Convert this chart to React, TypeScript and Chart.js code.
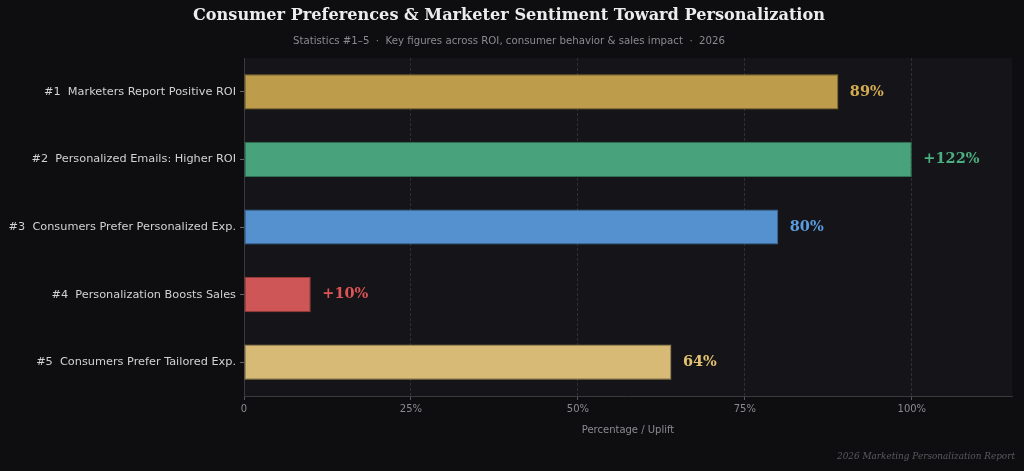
import React, { useEffect, useRef } from "react";
import { Chart, registerables } from "chart.js";

Chart.register(...registerables);

const categories = [
  "#1  Marketers Report Positive ROI",
  "#2  Personalized Emails: Higher ROI",
  "#3  Consumers Prefer Personalized Exp.",
  "#4  Personalization Boosts Sales",
  "#5  Consumers Prefer Tailored Exp.",
];
// reported values; bars are capped at the 100% axis mark
const reportedValues = [89, 122, 80, 10, 64];
const barValues = [89, 100, 80, 10, 64];
const valueLabels = ["89%", "+122%", "80%", "+10%", "64%"];
const barColors = ["#bd9c4b", "#48a27c", "#5591cf", "#cf5656", "#d6ba75"];
const barEdgeColors = ["#8a7035", "#2f6f53", "#3b6c9c", "#963a3a", "#a08a50"];
const labelColors = ["#d4ac52", "#4bb081", "#5b9de0", "#de5454", "#e2c271"];
const xTickValues = [0, 25, 50, 75, 100];
const xTickLabels = ["0", "25%", "50%", "75%", "100%"];

const TITLE = "Consumer Preferences & Marketer Sentiment Toward Personalization";
const SUBTITLE =
  "Statistics #1\u20135  \u00b7  Key figures across ROI, consumer behavior & sales impact  \u00b7  2026";
const FOOTER = "2026 Marketing Personalization Report";

export default function App() {
  const ref = useRef<HTMLCanvasElement | null>(null);

  useEffect(() => {
    document.body.style.margin = "0";
    document.body.style.background = "#0e0e10";
    const canvas = ref.current;
    if (!canvas) return;

    const decor = {
      id: "decor",
      beforeDraw(chart: any) {
        const { ctx, chartArea } = chart;
        ctx.save();
        ctx.fillStyle = "#0e0e10";
        ctx.fillRect(0, 0, chart.width, chart.height);
        ctx.fillStyle = "#151519";
        ctx.fillRect(
          chartArea.left,
          chartArea.top,
          chartArea.right - chartArea.left,
          chartArea.bottom - chartArea.top
        );
        ctx.restore();
      },
      afterDraw(chart: any) {
        const { ctx, width } = chart;
        ctx.save();
        ctx.textAlign = "center";
        ctx.textBaseline = "middle";
        ctx.fillStyle = "#ececec";
        ctx.font = "bold 16.15px 'DejaVu Serif'";
        ctx.fillText(TITLE, width / 2 - 3, 16);
        ctx.fillStyle = "#8a8a90";
        ctx.font = "10.2px 'DejaVu Sans'";
        ctx.fillText(SUBTITLE, width / 2 - 3, 41);
        ctx.textAlign = "right";
        ctx.fillStyle = "#5a5a60";
        ctx.font = "italic 8.9px 'DejaVu Serif'";
        ctx.fillText(FOOTER, 1015, 457);
        ctx.restore();
      },
      afterDatasetsDraw(chart: any) {
        const { ctx } = chart;
        const meta = chart.getDatasetMeta(0);
        ctx.save();
        ctx.textAlign = "left";
        ctx.textBaseline = "middle";
        ctx.font = "bold 14.5px 'DejaVu Serif'";
        meta.data.forEach((bar: any, i: number) => {
          ctx.fillStyle = labelColors[i];
          ctx.fillText(valueLabels[i], bar.x + 11.5, bar.y);
        });
        ctx.restore();
      },
    };

    const chart = new Chart(canvas, {
      type: "bar",
      data: {
        labels: categories,
        datasets: [
          {
            data: barValues,
            backgroundColor: barColors,
            borderColor: barEdgeColors,
            borderWidth: 1,
            borderSkipped: false,
            barPercentage: 0.52,
            categoryPercentage: 1,
          },
        ],
      },
      options: {
        indexAxis: "y",
        animation: false,
        responsive: false,
        maintainAspectRatio: false,
        layout: { padding: { top: 58, right: 12, left: 0, bottom: 0 } },
        plugins: {
          legend: { display: false },
          tooltip: { enabled: false },
          title: { display: false },
        },
        scales: {
          x: {
            type: "linear",
            min: 0,
            max: 115,
            afterFit(scale: any) {
              scale.height = 75;
            },
            afterBuildTicks(scale: any) {
              scale.ticks = xTickValues.map((v) => ({ value: v }));
            },
            ticks: {
              color: "#8a8a90",
              font: { family: "'DejaVu Sans'", size: 10 },
              padding: 3,
              callback: (v: any) => {
                const idx = xTickValues.indexOf(Number(v));
                return idx >= 0 ? xTickLabels[idx] : "";
              },
            },
            grid: {
              color: (c: any) =>
                c.tick && c.tick.value === 0 ? "rgba(0,0,0,0)" : "#36363c",
              lineWidth: 0.8,
              drawTicks: true,
              tickLength: 4,
              tickColor: "#55555c",
              tickWidth: 1,
              tickBorderDash: [],
            },
            border: { display: true, color: "#3a3a40", width: 1, dash: [3, 2] },
            title: {
              display: true,
              text: "Percentage / Uplift",
              color: "#8a8a90",
              font: { family: "'DejaVu Sans'", size: 10 },
              padding: { top: 0, bottom: 35 },
            },
          },
          y: {
            afterFit(scale: any) {
              scale.width = 244;
            },
            ticks: {
              color: "#d2d2d2",
              font: { family: "'DejaVu Sans'", size: 11.3 },
              padding: 4,
            },
            grid: {
              offset: false,
              drawOnChartArea: false,
              drawTicks: true,
              tickLength: 4,
              tickColor: "#66666c",
              color: "rgba(0,0,0,0)",
            },
            border: { display: true, color: "#3a3a40", width: 1 },
          },
        },
      },
      plugins: [decor],
    } as any);

    return () => chart.destroy();
  }, []);

  return (
    <div style={{ position: "absolute", left: 0, top: 0, width: 1024, height: 471 }}>
      <canvas ref={ref} width={1024} height={471} style={{ display: "block" }} />
    </div>
  );
}
